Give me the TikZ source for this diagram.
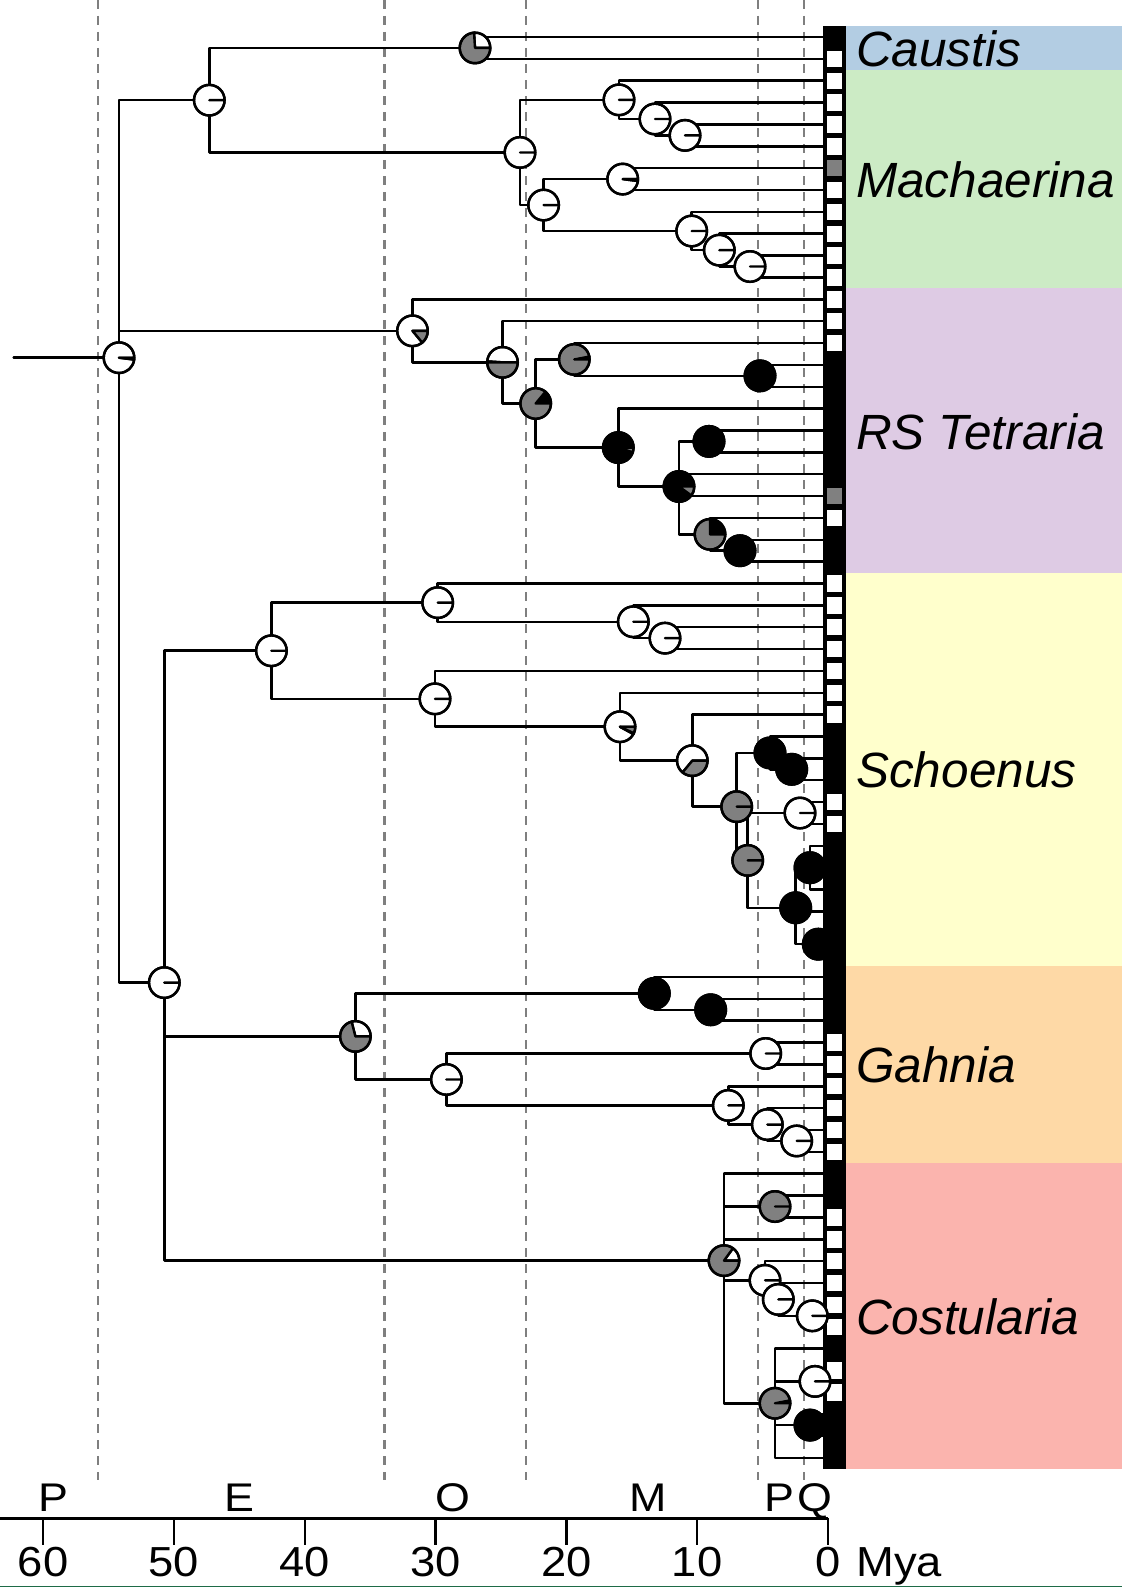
\documentclass[tikz,border=0pt]{standalone}
\usepackage{fontspec}
\setmainfont{Liberation Sans}
\definecolor{pgray}{HTML}{808080}
\definecolor{dashgray}{HTML}{7F7F7F}
\definecolor{cCaustis}{HTML}{B3CDE3}
\definecolor{cMach}{HTML}{CCEBC5}
\definecolor{cTetr}{HTML}{DECBE4}
\definecolor{cSchoen}{HTML}{FFFFCC}
\definecolor{cGahn}{HTML}{FED9A6}
\definecolor{cCost}{HTML}{FBB4AE}
\definecolor{edgegreen}{HTML}{1E6B48}
\newcommand{\pieR}{15.3}
\newcommand{\pchart}[4]{%
  \begin{scope}[shift={(#1)},yscale=-1]
    \pgfmathsetmacro{\angW}{360*#2}
    \pgfmathsetmacro{\angB}{360*(#2+#3)}
    \ifdim #2pt>0pt
      \filldraw[fill=white,pieline] (0,0) -- (0:\pieR) arc[start angle=0,end angle=\angW,radius=\pieR] -- cycle;
    \fi
    \ifdim #3pt>0pt
      \filldraw[fill=black,pieline] (0,0) -- (\angW:\pieR) arc[start angle=\angW,end angle=\angB,radius=\pieR] -- cycle;
    \fi
    \ifdim #4pt>0pt
      \filldraw[fill=pgray,pieline] (0,0) -- (\angB:\pieR) arc[start angle=\angB,end angle=360,radius=\pieR] -- cycle;
    \fi
    \draw[pieline] (0,0) circle[radius=\pieR];
  \end{scope}}
\newcommand{\kids}[2]{\foreach \kidname in {#2}{\draw[edge] (#1) |- (\kidname);}}
\begin{document}
\begin{tikzpicture}[x=1pt,y=-1pt,
  edge/.style={line width=2.5pt,line cap=round,line join=round},
  pieline/.style={line width=2.4pt,line join=round},
  dashline/.style={dashgray,line width=2.4pt,dash pattern=on 9pt off 7pt},
  clade/.style={font=\fontsize{49.5}{52}\selectfont\itshape,inner sep=0pt,anchor=base west},
  ticklab/.style={font=\fontsize{42}{46}\selectfont,inner sep=0pt,anchor=base,xscale=1.08},
  epoch/.style={font=\fontsize{40}{44}\selectfont,inner sep=0pt,anchor=base,xscale=1.12}]
\fill[white] (0,0) rectangle (1122,1587);
\useasboundingbox (0,0) rectangle (1122,1587);
% clade bands
\fill[cCaustis] (845,26.5) rectangle (1122,69.79);
\fill[cMach] (845,69.79) rectangle (1122,288.39);
\fill[cTetr] (845,288.39) rectangle (1122,572.57);
\fill[cSchoen] (845,572.57) rectangle (1122,966.05);
\fill[cGahn] (845,966.05) rectangle (1122,1162.79);
\fill[cCost] (845,1162.79) rectangle (1122,1469);
% epoch boundaries
\foreach \xx in {98,384.3,526,758,804}{\draw[dashline] (\xx,0) -- (\xx,1480);}
% tip state column
\fill[black] (822.5,26.5) rectangle (845.5,1469);
\foreach \k in {2,3,4,5,6,8,9,10,11,12,13,14,15,23,26,27,28,29,30,31,32,36,37,47,48,49,50,51,52,55,56,57,58,59,60,62,63}{
  \fill[white] (826.5,{37+(\k-1)*21.86-8.2}) rectangle (842.3,{37+(\k-1)*21.86+8.2});}
\foreach \k in {7,22}{
  \fill[pgray] (826.5,{37+(\k-1)*21.86-8.2}) rectangle (842.3,{37+(\k-1)*21.86+8.2});}
% tips
\foreach \k in {1,...,66}{\coordinate (t\k) at (823,{37+(\k-1)*21.86});}
% internal nodes
\coordinate (rootin) at (13.6,357.7);
\coordinate (root) at (119,357.7);
\coordinate (cm) at (209.3,100.19);
\coordinate (cau) at (475,47.93);
\coordinate (mach) at (520,152.45);
\coordinate (a1) at (619,99.85);
\coordinate (a2) at (655,118.98);
\coordinate (a3) at (685,135.37);
\coordinate (bb) at (543.6,205.05);
\coordinate (b1) at (622.7,179.09);
\coordinate (b2) at (691.7,231.01);
\coordinate (b3) at (719.3,250.14);
\coordinate (b4) at (750,266.53);
\coordinate (T0) at (412.5,330.83);
\coordinate (T1) at (502.5,362.34);
\coordinate (T2) at (535.7,403.5);
\coordinate (T3) at (574.3,359.44);
\coordinate (T5) at (760,375.83);
\coordinate (T4) at (618.3,447.56);
\coordinate (T6) at (679,486.5);
\coordinate (T7) at (709,441.41);
\coordinate (T9) at (710,534.32);
\coordinate (T10) at (740,550.71);
\coordinate (sgc) at (164.3,982.59);
\coordinate (sch) at (271.4,650.74);
\coordinate (s1) at (437.7,602.63);
\coordinate (s1b) at (633.3,621.76);
\coordinate (s1c) at (665,638.15);
\coordinate (s2) at (435,698.84);
\coordinate (s3) at (620,726.73);
\coordinate (s4) at (692.3,760.66);
\coordinate (s5) at (736.7,806.66);
\coordinate (sa) at (770,752.92);
\coordinate (sb1) at (791.7,769.31);
\coordinate (s6) at (747.7,860.4);
\coordinate (sw) at (800,813.03);
\coordinate (sc) at (795.7,907.76);
\coordinate (se) at (810,867.68);
\coordinate (sd) at (818.3,944.19);
\coordinate (gah) at (355.4,1036.42);
\coordinate (g1) at (654.3,993.38);
\coordinate (g2) at (710.7,1009.77);
\coordinate (g3) at (446.4,1079.45);
\coordinate (g4) at (765.7,1053.49);
\coordinate (g5) at (728.3,1105.41);
\coordinate (g6) at (767.3,1124.54);
\coordinate (g7) at (796.7,1140.93);
\coordinate (cos) at (724,1260.61);
\coordinate (cg1) at (775,1206.51);
\coordinate (cw1) at (765,1280.29);
\coordinate (cw2) at (778.3,1299.42);
\coordinate (cw3) at (812.3,1315.81);
\coordinate (cg2) at (775,1403.25);
\coordinate (cw4) at (815,1381.39);
\coordinate (cb) at (810,1425.11);
% edges
\draw[edge] (rootin) -- (root);
\kids{root}{cm,T0,sgc}
\kids{cm}{cau,mach}
\kids{cau}{t1,t2}
\kids{mach}{a1,bb}
\kids{a1}{t3,a2}
\kids{a2}{t4,a3}
\kids{a3}{t5,t6}
\kids{bb}{b1,b2}
\kids{b1}{t7,t8}
\kids{b2}{t9,b3}
\kids{b3}{t10,b4}
\kids{b4}{t11,t12}
\kids{T0}{t13,T1}
\kids{T1}{t14,T2}
\kids{T2}{T3,T4}
\kids{T3}{t15,T5}
\kids{T5}{t16,t17}
\kids{T4}{t18,T6}
\kids{T6}{T7,t21,t22,T9}
\kids{T7}{t19,t20}
\kids{T9}{t23,T10}
\kids{T10}{t24,t25}
\kids{sgc}{sch,gah,cos}
\kids{sch}{s1,s2}
\kids{s1}{t26,s1b}
\kids{s1b}{t27,s1c}
\kids{s1c}{t28,t29}
\kids{s2}{t30,s3}
\kids{s3}{t31,s4}
\kids{s4}{t32,s5}
\kids{s5}{sa,s6}
\kids{sa}{t33,sb1}
\kids{sb1}{t34,t35}
\kids{s6}{sw,sc}
\kids{sw}{t36,t37}
\kids{sc}{se,t41,sd}
\kids{se}{t38,t39,t40}
\kids{sd}{t42,t43}
\kids{gah}{g1,g3}
\kids{g1}{t44,g2}
\kids{g2}{t45,t46}
\kids{g3}{g4,g5}
\kids{g4}{t47,t48}
\kids{g5}{t49,g6}
\kids{g6}{t50,g7}
\kids{g7}{t51,t52}
\kids{cos}{t53,cg1,t56,cw1,cg2}
\kids{cg1}{t54,t55}
\kids{cw1}{t57,cw2}
\kids{cw2}{t58,cw3}
\kids{cw3}{t59,t60}
\kids{cg2}{t61,cw4,cb,t66}
\kids{cw4}{t62,t63}
\kids{cb}{t64,t65}
% ancestral state pies: white, black, grey
\pchart{root}{0.98}{0.02}{0}
\pchart{cm}{1}{0}{0}
\pchart{cau}{0.26}{0}{0.74}
\pchart{mach}{1}{0}{0}
\pchart{a1}{1}{0}{0}
\pchart{a2}{1}{0}{0}
\pchart{a3}{1}{0}{0}
\pchart{bb}{1}{0}{0}
\pchart{b1}{0.98}{0.02}{0}
\pchart{b2}{1}{0}{0}
\pchart{b3}{1}{0}{0}
\pchart{b4}{1}{0}{0}
\pchart{T0}{0.86}{0}{0.14}
\pchart{T1}{0.49}{0.01}{0.5}
\pchart{T2}{0.025}{0.115}{0.86}
\pchart{T3}{0}{0.03}{0.97}
\pchart{T5}{0}{1}{0}
\pchart{T4}{0}{0.95}{0.05}
\pchart{T6}{0}{0.9}{0.1}
\pchart{T7}{0}{1}{0}
\pchart{T9}{0}{0.25}{0.75}
\pchart{T10}{0}{1}{0}
\pchart{sgc}{1}{0}{0}
\pchart{sch}{1}{0}{0}
\pchart{s1}{1}{0}{0}
\pchart{s1b}{1}{0}{0}
\pchart{s1c}{1}{0}{0}
\pchart{s2}{1}{0}{0}
\pchart{s3}{0.92}{0.01}{0.07}
\pchart{s4}{0.64}{0}{0.36}
\pchart{s5}{0}{0}{1}
\pchart{sa}{0}{1}{0}
\pchart{sb1}{0}{1}{0}
\pchart{sw}{1}{0}{0}
\pchart{s6}{0}{0}{1}
\pchart{se}{0}{1}{0}
\pchart{sc}{0}{1}{0}
\pchart{sd}{0}{1}{0}
\pchart{gah}{0.29}{0}{0.71}
\pchart{g1}{0}{1}{0}
\pchart{g2}{0}{1}{0}
\pchart{g3}{1}{0}{0}
\pchart{g4}{1}{0}{0}
\pchart{g5}{1}{0}{0}
\pchart{g6}{1}{0}{0}
\pchart{g7}{1}{0}{0}
\pchart{cos}{0.15}{0}{0.85}
\pchart{cg1}{0}{0}{1}
\pchart{cw1}{1}{0}{0}
\pchart{cw2}{1}{0}{0}
\pchart{cw3}{1}{0}{0}
\pchart{cw4}{1}{0}{0}
\pchart{cb}{0}{1}{0}
\pchart{cg2}{0}{0.03}{0.97}
% clade labels
\node[clade] (lcau) at (856,66.7) {Caustis};
\node[clade] (lmach) at (856,197.6) {Machaerina};
\node[clade] (ltet) at (856,449) {RS Tetraria};
\node[clade] (lsch) at (856,787.8) {Schoenus};
\node[clade] (lgah) at (856,1082.9) {Gahnia};
\node[clade] (lcos) at (856,1334.4) {Costularia};
% time axis
\coordinate (axL) at (0,1518.3);
\coordinate (axR) at (828,1518.3);
\draw[edge,line cap=butt] (axL) -- (axR);
\foreach \tt in {0,10,20,30,40,50,60}{
  \draw[edge,line cap=butt] ({828-13.08*\tt},1518.3) -- ({828-13.08*\tt},1545);
  \node[ticklab] (tick\tt) at ({828-13.08*\tt},1576.5) {\tt};}
\node[ticklab,anchor=base west] (mya) at (856,1576.5) {Mya};
\node[epoch] (ePa) at (53.5,1511.5) {P};
\node[epoch] (eEo) at (239,1511.5) {E};
\node[epoch] (eOl) at (453,1511.5) {O};
\node[epoch] (eMi) at (648,1511.5) {M};
\node[epoch] (ePl) at (779,1511.5) {P};
\node[epoch] (eQu) at (815,1511.5) {Q};
\draw[edgegreen,line width=1.2pt] (0,1586.4) -- (1122,1586.4);
\end{tikzpicture}
\end{document}
